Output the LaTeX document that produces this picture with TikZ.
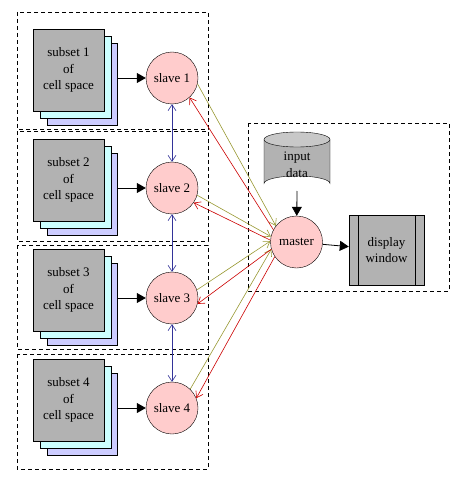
\documentclass[tikz,border=0pt]{standalone}
\usepackage{fontspec}
\setmainfont{Liberation Serif}
\usetikzlibrary{arrows.meta}
\definecolor{boxgray}{RGB}{178,178,178}
\definecolor{cylgray}{RGB}{200,200,200}
\definecolor{doccyan}{RGB}{204,255,255}
\definecolor{docblue}{RGB}{204,204,255}
\definecolor{nodepink}{RGB}{255,204,204}
\definecolor{linkblue}{RGB}{51,51,153}
\definecolor{linkolive}{RGB}{153,153,51}
\definecolor{linkred}{RGB}{204,0,0}
\tikzset{
  frame/.style={draw=black, line width=0.8pt, dash pattern=on 4pt off 3pt},
  docfront/.style={draw=black, fill=boxgray, minimum width=71pt, minimum height=82pt, inner sep=0pt, align=center, font=\fontsize{13}{16.5}\selectfont},
  docmid/.style={draw=black, fill=doccyan, minimum width=71pt, minimum height=82pt, inner sep=0pt},
  docback/.style={draw=black, fill=docblue, minimum width=70pt, minimum height=82pt, inner sep=0pt},
  proc/.style={circle, draw=black, fill=nodepink, minimum size=52pt, inner sep=0pt, font=\fontsize{13}{15}\selectfont},
  feed/.style={draw=black, line width=0.8pt, -{Triangle[length=9pt,width=10pt]}},
  peer/.style={draw=linkblue, line width=0.6pt, {Straight Barb[length=6pt,width=8pt]}-{Straight Barb[length=6pt,width=8pt]}},
  upl/.style={draw=linkolive, line width=0.6pt, -{Straight Barb[length=6pt,width=8pt]}},
  dnl/.style={draw=linkred, line width=0.6pt, -{Straight Barb[length=6pt,width=8pt]}},
  lbl/.style={align=center, font=\fontsize{13}{16.5}\selectfont, inner sep=0pt}
}
\begin{document}
\begin{tikzpicture}[x=1pt,y=-1pt]
\path[use as bounding box, fill=white] (0,0) rectangle (463,484);
% dashed frames
\draw[frame] (17,12) rectangle (208,129);
\draw[frame] (17,131) rectangle (208,241);
\draw[frame] (17,245) rectangle (208,349);
\draw[frame] (17,354) rectangle (208,469);
\draw[frame] (248,123) rectangle (449,291);
% document stacks and slaves
\foreach \i/\yc in {1/70,2/180,3/290,4/400}{
  \node[docback] (b\i) at (82,\yc+14) {};
  \node[docmid] (c\i) at (75.5,\yc+7) {};
  \node[docfront] (d\i) at (68.5,\yc) {subset \i\\of\\cell space};
  \node[proc] (s\i) at (172,\yc+8) {slave \i};
  \draw[feed] (b\i.east |- s\i) -- (s\i);
}
\draw[peer] (s1) -- (s2);
\draw[peer] (s2) -- (s3);
\draw[peer] (s3) -- (s4);
% master
\node[proc] (m) at (296.5,242) {master};
% input data cylinder
\draw[fill=boxgray] (264,139.5) -- (264,183.5) arc[start angle=180, end angle=360, x radius=33, y radius=7.5] -- (330,139.5);
\draw[fill=cylgray] (297,139.5) ellipse[x radius=33, y radius=7.5];
\node[lbl] (inp) at (297,165) {input\\data};
\coordinate (inpb) at (297,191);
\draw[feed] (inpb) -- (m);
% display window
\node[draw=black, fill=boxgray, minimum width=75pt, minimum height=70pt, inner sep=0pt] (disp) at (386.5,250) {};
\draw (358,215) -- (358,285);
\draw (415,215) -- (415,285);
\node[lbl] (dtxt) at (386.5,250) {display\\window};
\draw[feed] (m) -- (disp);
% links slave -> master (olive) and master -> slave (red)
\draw[upl] (s1.-13) -- (m.142);
\draw[upl] (s2.-16) -- (m.168);
\draw[upl] (s3.18) -- (m.178);
\draw[upl] (s4.46) -- (m.196);
\draw[dnl] (m.152) -- (s1.-48);
\draw[dnl] (m.176) -- (s2.-34);
\draw[dnl] (m.196) -- (s3.-13);
\draw[dnl] (m.214) -- (s4.22);
\end{tikzpicture}
\end{document}
